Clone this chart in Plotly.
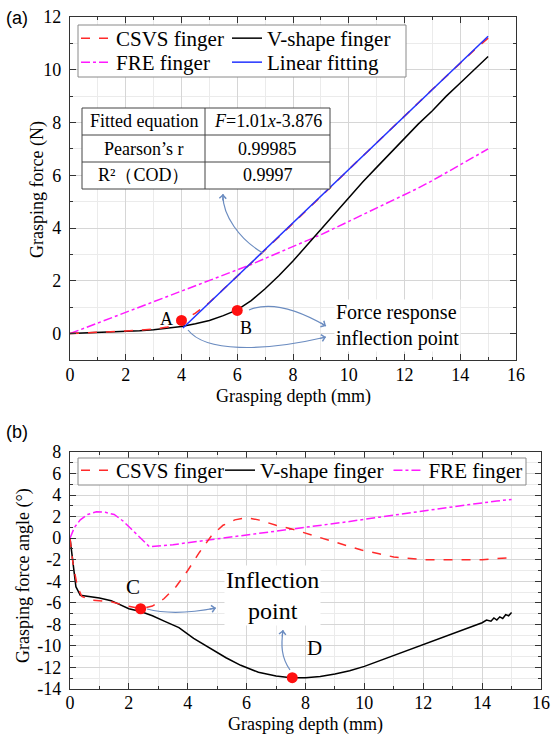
import plotly.graph_objects as go

W, H = 553, 740


def px(x):
    return x / W


def py(y):
    return 1 - y / H


SERIF = "Liberation Serif, Times New Roman, serif"
SANS = "Liberation Sans, Arial, sans-serif"

# ---------------- data: panel (a) ----------------
depth_a = [0, 0.5, 1, 1.5, 2, 2.5, 3, 3.5, 4, 4.5, 5, 5.5, 6, 6.5, 7, 7.5, 8, 8.5,
           9, 9.5, 10, 10.5, 11, 11.5, 12, 12.5, 13, 13.5, 14, 14.5, 15]
csvs_a = [0, 0.02, 0.05, 0.08, 0.1, 0.13, 0.17, 0.25, 0.45, 0.78, 1.18, 1.68, 2.17,
          2.66, 3.17, 3.67, 4.18, 4.68, 5.2, 5.7, 6.22, 6.72, 7.24, 7.74, 8.25, 8.75,
          9.26, 9.76, 10.26, 10.74, 11.2]
vshape_a = [0, 0.02, 0.04, 0.06, 0.08, 0.11, 0.15, 0.2, 0.27, 0.37, 0.5, 0.68, 0.9,
            1.25, 1.7, 2.2, 2.75, 3.35, 3.95, 4.55, 5.15, 5.75, 6.3, 6.85, 7.4, 7.95,
            8.45, 9.0, 9.5, 10.0, 10.5]
fre_a = [0, 0.2, 0.4, 0.6, 0.8, 1.0, 1.2, 1.4, 1.6, 1.8, 2.0, 2.2, 2.4, 2.62, 2.85,
         3.07, 3.3, 3.52, 3.75, 4.0, 4.25, 4.5, 4.75, 5.0, 5.25, 5.52, 5.8, 6.1, 6.4,
         6.7, 7.0]
fit_x = [4.05, 15]
fit_y = [0.21, 11.27]
points_a_x = [4, 6]
points_a_y = [0.5, 0.88]
labels_a = ["A", "B"]
labels_a_x = [3.45, 6.3]
labels_a_y = [0.55, 0.22]

table_rows = [["Fitted equation", "<i>F</i>=1.01<i>x</i>-3.876"],
              ["Pearson’s r", "0.99985"],
              ["R²（COD）", "0.9997"]]

# ---------------- data: panel (b) ----------------
csvs_b_x = [0, 0.1, 0.25, 0.4, 0.7, 1.0, 1.4, 1.8, 2.1, 2.4, 2.8, 3.2, 3.6, 4.0, 4.4,
            4.8, 5.2, 5.6, 6.0, 6.4, 7.0, 7.6, 8.5, 9.2, 9.9, 10.5, 11, 12, 13, 14, 15]
csvs_b_y = [0, -2.3, -4.5, -5.4, -5.75, -5.8, -5.9, -6.2, -6.4, -6.55, -6.3, -5.6,
            -4.5, -3.0, -1.3, 0.2, 1.2, 1.7, 1.9, 1.7, 1.2, 0.8, 0.05, -0.55, -1.1,
            -1.45, -1.75, -2.0, -2.0, -2.0, -1.8]
vshape_b_x = [0, 0.1, 0.2, 0.35, 0.7, 1.0, 1.4, 1.7, 2.0, 2.4, 2.8, 3.2, 3.7, 4.2, 4.8,
              5.3, 5.8, 6.4, 7.0, 7.5, 8.0, 8.5, 9.0, 9.5, 10, 10.5, 11, 11.5, 12, 12.5,
              13, 13.5, 14, 14.15, 14.3, 14.4, 14.5, 14.6, 14.7, 14.8, 14.9, 15]
vshape_b_y = [0, -2.5, -4.5, -5.3, -5.45, -5.55, -5.8, -6.2, -6.55, -6.8, -7.2, -7.7,
              -8.3, -9.3, -10.3, -11.1, -11.8, -12.45, -12.8, -12.95, -12.95, -12.85,
              -12.6, -12.3, -11.9, -11.4, -10.9, -10.4, -9.85, -9.35, -8.85, -8.35,
              -7.85, -7.6, -7.7, -7.4, -7.6, -7.3, -7.45, -7.1, -7.2, -6.9]
fre_b_x = [0, 0.15, 0.35, 0.6, 0.9, 1.2, 1.5, 1.8, 2.1, 2.4, 2.7, 3.5, 4.5, 5.5, 6.5,
           7.5, 8.5, 9.5, 10.5, 11.5, 12.5, 13.5, 14.5, 15]
fre_b_y = [0, 1.0, 1.7, 2.2, 2.45, 2.4, 2.2, 1.6, 0.8, 0, -0.8, -0.6, -0.25, 0.1, 0.45,
           0.8, 1.15, 1.55, 1.95, 2.35, 2.75, 3.1, 3.45, 3.6]
points_b_x = [2.4, 7.55]
points_b_y = [-6.55, -12.95]
labels_b = ["C", "D"]
labels_b_x = [2.15, 8.3]
labels_b_y = [-4.5, -10.2]

ticks_a_x = [0, 2, 4, 6, 8, 10, 12, 14, 16]
ticks_a_y = [0, 2, 4, 6, 8, 10, 12]
ticks_b_y = [-14, -12, -10, -8, -6, -4, -2, 0, 2, 4, 6, 8]
ticks_b_y_text = ["-14", "-12", "-10", "-8", "-6", "-4", "-2", "0", "2", "4", "6", "8"]

RED = "#ff2a2a"
MAG = "#ff19ff"
BLUE = "#2233ff"
ARROW = "#6b8cc0"

fig = go.Figure()

# panel (a)
fig.add_trace(go.Scatter(x=depth_a, y=fre_a, mode="lines", name="FRE finger",
                         line=dict(color=MAG, width=1.5, dash="dashdot"),
                         legend="legend2", legendrank=3, legendwidth=106,
                         xaxis="x", yaxis="y"))
fig.add_trace(go.Scatter(x=depth_a, y=vshape_a, mode="lines", name="V-shape finger",
                         line=dict(color="black", width=1.5), legend="legend",
                         legendrank=2, legendwidth=130, xaxis="x", yaxis="y"))
fig.add_trace(go.Scatter(x=depth_a, y=csvs_a, mode="lines", name="CSVS finger",
                         line=dict(color=RED, width=1.5, dash="dash"), legend="legend",
                         legendrank=1, legendwidth=106, xaxis="x", yaxis="y"))
fig.add_trace(go.Scatter(x=fit_x, y=fit_y, mode="lines", name="Linear fitting",
                         line=dict(color=BLUE, width=1.5), legend="legend2",
                         legendrank=4, legendwidth=130, xaxis="x", yaxis="y"))
fig.add_trace(go.Scatter(x=points_a_x, y=points_a_y, mode="markers", showlegend=False,
                         marker=dict(color="#ff1010", size=11), xaxis="x", yaxis="y"))

# panel (b)
fig.add_trace(go.Scatter(x=fre_b_x, y=fre_b_y, mode="lines", name="FRE finger",
                         line=dict(color=MAG, width=1.5, dash="dashdot"),
                         legend="legend3", legendrank=3, xaxis="x2", yaxis="y2"))
fig.add_trace(go.Scatter(x=vshape_b_x, y=vshape_b_y, mode="lines", name="V-shape finger",
                         line=dict(color="black", width=1.5), legend="legend3",
                         legendrank=2, xaxis="x2", yaxis="y2"))
fig.add_trace(go.Scatter(x=csvs_b_x, y=csvs_b_y, mode="lines", name="CSVS finger",
                         line=dict(color=RED, width=1.5, dash="dash"), legend="legend3",
                         legendrank=1, legendwidth=99, xaxis="x2", yaxis="y2"))
fig.add_trace(go.Scatter(x=points_b_x, y=points_b_y, mode="markers", showlegend=False,
                         marker=dict(color="#ff1010", size=11), xaxis="x2", yaxis="y2"))

GRID = "#d6d6d6"
MINOR = "#ebebeb"
axis_common = dict(showline=True, linecolor="#333333", linewidth=1.2, mirror="allticks",
                   ticks="inside", ticklen=6, tickwidth=1, tickcolor="#333333",
                   showgrid=True, gridcolor=GRID, gridwidth=1, zeroline=False,
                   tickfont=dict(family=SERIF, size=18, color="black"),
                   minor=dict(tickmode="linear", tick0=0, dtick=1, ticks="inside",
                              ticklen=3, tickcolor="#333333", showgrid=True,
                              gridcolor=MINOR, gridwidth=1))

LEGFONT = dict(family=SERIF, size=21, color="black")

fig.update_layout(
    width=W, height=H, autosize=False,
    margin=dict(l=0, r=0, t=0, b=0, pad=0, autoexpand=False),
    paper_bgcolor="white", plot_bgcolor="white",
    font=dict(family=SERIF, size=18, color="black"),
    xaxis=dict(domain=[px(70), px(516)], range=[0, 16], anchor="y",
               tickmode="array", tickvals=ticks_a_x, ticklabelstandoff=-2, **axis_common),
    yaxis=dict(domain=[py(360), py(17)], range=[-1, 12], anchor="x",
               tickmode="array", tickvals=ticks_a_y, ticklabelstandoff=4, **axis_common),
    xaxis2=dict(domain=[px(70), px(541)], range=[0, 16], anchor="y2",
                tickmode="array", tickvals=ticks_a_x, ticklabelstandoff=-3, **axis_common),
    yaxis2=dict(domain=[py(689), py(452)], range=[-14, 8], anchor="x2",
                tickmode="array", tickvals=ticks_b_y, ticktext=ticks_b_y_text,
                ticklabelstandoff=4, **axis_common),
    legend=dict(x=px(76), y=py(18), xanchor="left", yanchor="top", orientation="h",
                bgcolor="rgba(0,0,0,0)", borderwidth=0,
                font=LEGFONT, itemwidth=30, tracegroupgap=0),
    legend2=dict(x=px(76), y=py(42), xanchor="left", yanchor="top", orientation="h",
                 bgcolor="rgba(0,0,0,0)", borderwidth=0,
                 font=LEGFONT, itemwidth=30, tracegroupgap=0),
    legend3=dict(x=px(76), y=py(450), xanchor="left", yanchor="top", orientation="h",
                 bgcolor="rgba(0,0,0,0)", borderwidth=0,
                 font=LEGFONT, itemwidth=30, tracegroupgap=0),
)

shapes = []
# legend boxes
shapes.append(dict(type="rect", xref="paper", yref="paper", x0=px(78), x1=px(406),
                   y0=py(25), y1=py(77), fillcolor="white",
                   line=dict(color="#8a8a8a", width=1), layer="above"))
shapes.append(dict(type="rect", xref="paper", yref="paper", x0=px(78), x1=px(526),
                   y0=py(458), y1=py(485), fillcolor="white",
                   line=dict(color="#8a8a8a", width=1), layer="above"))
# table
tx0, tx1, tcol = 82, 330, 205
trows = [108, 135, 162, 189]
shapes.append(dict(type="rect", xref="paper", yref="paper", x0=px(tx0), x1=px(tx1),
                   y0=py(trows[-1]), y1=py(trows[0]), fillcolor="white",
                   line=dict(color="#444444", width=1), layer="above"))
for ry in trows[1:-1]:
    shapes.append(dict(type="line", xref="paper", yref="paper", x0=px(tx0), x1=px(tx1),
                       y0=py(ry), y1=py(ry), line=dict(color="#444444", width=1),
                       layer="above"))
shapes.append(dict(type="line", xref="paper", yref="paper", x0=px(tcol), x1=px(tcol),
                   y0=py(trows[0]), y1=py(trows[-1]), line=dict(color="#444444", width=1),
                   layer="above"))


def curve(pts):
    (x0, y0), (c1x, c1y), (c2x, c2y), (x1, y1) = pts
    return "M{},{} C{},{} {},{} {},{}".format(px(x0), py(y0), px(c1x), py(c1y),
                                                px(c2x), py(c2y), px(x1), py(y1))


arrow_curves = [
    [(263, 253), (240, 240), (222, 215), (223, 194)],
    [(249, 310), (268, 302), (295, 308), (326, 326)],
    [(188, 330), (205, 352), (262, 352), (326, 337)],
    [(147, 609), (170, 615), (195, 612), (216, 608)],
    [(290, 670), (281, 657), (281, 645), (283, 630)],
]
for c in arrow_curves:
    shapes.append(dict(type="path", xref="paper", yref="paper", path=curve(c),
                       line=dict(color=ARROW, width=1.2), layer="above"))
fig.update_layout(shapes=shapes)

ann = []
# arrowheads at curve ends
for c in arrow_curves:
    (x2, y2), (x3, y3) = c[2], c[3]
    dx, dy = x2 - x3, y2 - y3
    n = (dx * dx + dy * dy) ** 0.5
    ann.append(dict(x=px(x3), y=py(y3), xref="paper", yref="paper", text="",
                    showarrow=True, arrowhead=4, arrowsize=1.1, arrowwidth=1.2,
                    arrowcolor=ARROW, ax=dx / n * 8, ay=dy / n * 8))

# table text
for i, row in enumerate(table_rows):
    yc = (trows[i] + trows[i + 1]) / 2
    ann.append(dict(x=px((tx0 + tcol) / 2), y=py(yc), xref="paper", yref="paper",
                    xanchor="center", yanchor="middle",
                    text=row[0], showarrow=False, font=dict(family=SERIF, size=18)))
    ann.append(dict(x=px((tcol + tx1) / 2), y=py(yc), xref="paper", yref="paper",
                    xanchor="center", yanchor="middle",
                    text=row[1], showarrow=False, font=dict(family=SERIF, size=18)))

# point labels
for t, lx, ly in zip(labels_a, labels_a_x, labels_a_y):
    ann.append(dict(x=lx, y=ly, xref="x", yref="y", text=t, showarrow=False,
                    xanchor="center", yanchor="middle",
                    font=dict(family=SERIF, size=18)))
for t, lx, ly in zip(labels_b, labels_b_x, labels_b_y):
    ann.append(dict(x=lx, y=ly, xref="x2", yref="y2", text=t, showarrow=False,
                    xanchor="center", yanchor="middle",
                    font=dict(family=SERIF, size=21)))

ann.append(dict(x=px(334), y=py(326), xref="paper", yref="paper", xanchor="left",
                yanchor="middle", align="left", showarrow=False, bgcolor="white",
                text="Force response<br>inflection point",
                font=dict(family=SERIF, size=20)))
ann.append(dict(x=px(272), y=py(595), xref="paper", yref="paper", xanchor="center",
                yanchor="middle", align="center", showarrow=False, bgcolor="white",
                text="Inflection<br>point", font=dict(family=SERIF, size=24)))

# panel letters and axis titles
ann.append(dict(x=px(4), y=py(18), xref="paper", yref="paper", xanchor="left",
                yanchor="middle", text="(a)", showarrow=False,
                font=dict(family=SANS, size=18)))
ann.append(dict(x=px(4), y=py(432), xref="paper", yref="paper", xanchor="left",
                yanchor="middle", text="(b)", showarrow=False,
                font=dict(family=SANS, size=18)))
ann.append(dict(x=px(293), y=py(397), xref="paper", yref="paper", xanchor="center",
                yanchor="middle", text="Grasping depth (mm)", showarrow=False,
                font=dict(family=SERIF, size=18)))
ann.append(dict(x=px(305), y=py(724), xref="paper", yref="paper", xanchor="center",
                yanchor="middle", text="Grasping depth (mm)", showarrow=False,
                font=dict(family=SERIF, size=18)))
ann.append(dict(x=px(37), y=py(190), xref="paper", yref="paper", textangle=-90,
                xanchor="center", yanchor="middle",
                text="Grasping force (N)", showarrow=False,
                font=dict(family=SERIF, size=18)))
ann.append(dict(x=px(23), y=py(576), xref="paper", yref="paper", textangle=-90,
                xanchor="center", yanchor="middle",
                text="Grasping force angle (°)", showarrow=False,
                font=dict(family=SERIF, size=18)))
fig.update_layout(annotations=ann)

fig.write_html("out.html")
